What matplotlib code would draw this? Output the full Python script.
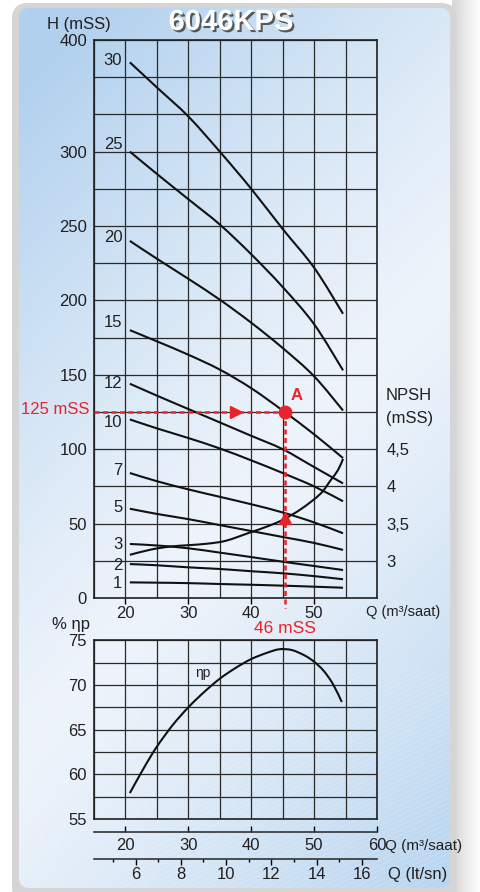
import numpy as np
import matplotlib
matplotlib.use("Agg")
import matplotlib.pyplot as plt
import matplotlib.patheffects as pe
from matplotlib.patches import FancyBboxPatch, PathPatch
from matplotlib.path import Path

plt.rcParams['font.family'] = ['Liberation Sans', 'DejaVu Sans']

W, HP = 481, 892
RED = '#e8232b'
INK = '#231f20'

# head curves, Q (m3/saat) vs H (mSS), one per stage count
q_head = [20.7, 25, 30, 35, 40, 45, 50, 54.6]
h_30 = [380, 357.5, 331.5, 300, 275, 248, 222, 191]
h_25 = [300, 285, 268, 251, 231, 209, 184, 153]
h_20 = [240, 228, 214.5, 200.5, 185, 168, 149, 126]
h_15 = [180, 172.5, 163.5, 153.5, 141, 126, 110, 94]
h_12 = [144, 136, 127, 118, 109, 100, 88, 77]
h_10 = [120, 114, 107.5, 100.5, 92.5, 84, 75, 65]
h_7 = [84, 78.5, 73, 68, 63, 57.5, 50.8, 43.5]
h_5 = [60, 56.5, 53, 49, 45, 41, 37, 32.3]
h_3 = [36.3, 35.3, 33.4, 30.5, 27.5, 24.4, 21.5, 18.8]
h_2 = [22.8, 22, 20.6, 19.5, 18, 16.6, 14.7, 12.6]
h_1 = [10.5, 10.3, 10, 9.4, 8.9, 8.3, 7.6, 6.9]
stage_labels = ["30", "25", "20", "15", "12", "10", "7", "5", "3", "2", "1"]
stage_label_h = [382, 306, 242, 185, 144, 118, 86, 61, 36, 22, 9.5]

# NPSH curve (right axis)
q_npsh = [20.7, 24, 27, 30, 33, 36, 39.8, 42.5, 45, 48, 51, 52.6, 53.8, 54.6]
npsh = [3.08, 3.15, 3.19, 3.21, 3.23, 3.27, 3.38, 3.46, 3.55, 3.7, 3.9, 4.08, 4.22, 4.37]
npsh_ticks = [3, 3.5, 4, 4.5]
npsh_labels = ["3", "3,5", "4", "4,5"]

# efficiency curve
q_eff = [20.7, 23, 25, 27.5, 30, 32.5, 35, 37.5, 40, 42.5, 44.5, 46.5,
         48.5, 50, 51.5, 53, 54.4]
eff = [57.9, 60.8, 63.1, 65.5, 67.5, 69.2, 70.7, 71.9, 72.9, 73.6, 74.0,
       73.9, 73.3, 72.6, 71.6, 70.1, 68.1]

# operating point A
q_a, h_a, npsh_a = 45.3, 125, 3.57
q_arrow = 37.6


def fx(x):
    return x / W


def fy(y):
    return 1 - y / HP


# y scale of the head chart: 25 m per grid row up to 300, then 33.3 m per row
def fwd(h):
    h = np.asarray(h, float)
    return np.where(h <= 300, h / 25.0, 12 + (h - 300) * 0.03)


def inv(g):
    g = np.asarray(g, float)
    return np.where(g <= 12, g * 25.0, 300 + (g - 12) / 0.03)


def npsh_fwd(n):
    return fwd(25 + (np.asarray(n, float) - 3) * 50)


def npsh_inv(g):
    return 3 + (inv(g) - 25) / 50


def smooth_line(ax, x, y, f=None, finv=None, **kw):
    # draw a smooth curve through the read points (Catmull-Rom as cubic Beziers)
    x = np.asarray(x, float)
    g = np.asarray(y, float) if f is None else f(y)
    n = len(x)
    verts = [(x[0], g[0])]
    codes = [Path.MOVETO]
    for i in range(n - 1):
        j0 = max(i - 1, 0)
        j3 = min(i + 2, n - 1)
        c1 = (x[i] + (x[i + 1] - x[j0]) / 6, g[i] + (g[i + 1] - g[j0]) / 6)
        c2 = (x[i + 1] - (x[j3] - x[i]) / 6, g[i + 1] - (g[j3] - g[i]) / 6)
        verts += [c1, c2, (x[i + 1], g[i + 1])]
        codes += [Path.CURVE4] * 3
    verts = np.array(verts)
    if finv is not None:
        verts[:, 1] = finv(verts[:, 1])
    ax.add_patch(PathPatch(Path(verts, codes), fill=False, capstyle='butt', **kw))


fig = plt.figure(figsize=(W / 100, HP / 100), dpi=100)
fig.patch.set_facecolor('white')

# background card
bg = fig.add_axes([0, 0, 1, 1], zorder=-10)
bg.set_xlim(0, W)
bg.set_ylim(HP, 0)
bg.axis('off')
shade = np.linspace(0, 1, 60)[None, :]
bg.imshow(shade, extent=(452, W, HP, 0), aspect='auto', zorder=0,
          cmap=matplotlib.colors.LinearSegmentedColormap.from_list('sh', ['#d6d6d6', '#ffffff']))
bg.add_patch(FancyBboxPatch((12, 3), 445, 900, boxstyle='round,pad=0,rounding_size=16',
                            fc='#d5d5d5', ec='none', zorder=1))
panel = FancyBboxPatch((19, 8), 431, 880, boxstyle='round,pad=0,rounding_size=10',
                       fc='none', ec='none', zorder=2)
bg.add_patch(panel)
yy, xx = np.mgrid[0:1:300j, 0:1:150j]
s = 0.35 * xx + 0.65 * yy
k = np.clip(np.abs(s - 0.55) / 0.5, 0, 1) ** 1.2
blue = np.array([176, 208, 238]) / 255
light = np.array([238, 244, 251]) / 255
img = light[None, None, :] * (1 - k[..., None]) + blue[None, None, :] * k[..., None]
im = bg.imshow(img, extent=(19, 450, 888, 8), aspect='auto', zorder=2, interpolation='bilinear')
im.set_clip_path(panel)
for x0 in np.arange(-400, 460, 11):
    ln, = bg.plot([x0, x0 + 500], [900, 900 - 230], color='white', lw=0.5, alpha=0.25, zorder=3)
    ln.set_clip_path(panel)

grid_kw = dict(color='#2a2a2a', lw=0.9)
curve_kw = dict(color='#111111', lw=1.5, zorder=4)

# head chart
ax = fig.add_axes([fx(94), fy(598), (377 - 94) / W, (598 - 40) / HP])
ax.set_facecolor('none')
ax.set_xlim(15, 60)
ax.set_yscale('function', functions=(fwd, inv))
ax.set_ylim(0, 400)
ax.set_yticks([0, 50, 100, 150, 200, 250, 300, 400])
ax.set_yticks(list(np.arange(0, 301, 25)) + [333.33, 366.67], minor=True)
ax.set_xticks([20, 30, 40, 50])
ax.set_xticks(np.arange(15, 61, 5), minor=True)
ax.grid(True, which='both', **grid_kw)
ax.tick_params(axis='y', which='both', length=0, pad=5, labelsize=12, labelcolor=INK)
ax.tick_params(axis='x', which='major', length=4, width=1, pad=2, labelsize=12, labelcolor=INK)
ax.tick_params(axis='x', which='minor', length=0)
for sp in ax.spines.values():
    sp.set_color('#222222')
    sp.set_linewidth(1.2)

curves = [h_30, h_25, h_20, h_15, h_12, h_10, h_7, h_5, h_3, h_2, h_1]
for hv in curves:
    smooth_line(ax, q_head, hv, fwd, inv, **curve_kw)
for lab, hl in zip(stage_labels, stage_label_h):
    ax.text(19.5, hl, lab, ha='right', va='center', fontsize=12, color=INK)

axn = ax.twinx()
axn.set_yscale('function', functions=(npsh_fwd, npsh_inv))
axn.set_ylim(2.5, 10.5)
axn.set_yticks(npsh_ticks)
axn.set_yticklabels(npsh_labels)
axn.tick_params(axis='y', length=0, pad=7, labelsize=12, labelcolor=INK)
for sp in axn.spines.values():
    sp.set_visible(False)
smooth_line(axn, q_npsh, npsh, npsh_fwd, npsh_inv, **curve_kw)

# operating point
dash = (0, (2, 1.4))
ax.plot([15, q_a], [h_a, h_a], color=RED, lw=1.8, ls=dash, clip_on=False, zorder=5)
ax.plot([q_a, q_a], [h_a, -7], color=RED, lw=1.8, ls=dash, clip_on=False, zorder=5)
ax.plot([q_arrow], [h_a], marker='>', ms=8, color=RED, zorder=6)
ax.plot([q_a], [h_a], marker='o', ms=9, color=RED, zorder=6)
axn.plot([q_a], [npsh_a], marker='^', ms=8, color=RED, zorder=6)

fig.text(fx(297), fy(395), 'A', color=RED, fontsize=12, fontweight='bold', ha='center', va='center')
fig.text(fx(89), fy(409), '125 mSS', color=RED, fontsize=12, ha='right', va='center')
fig.text(fx(285), fy(628.5), '46 mSS', color=RED, fontsize=12.5, ha='center', va='center')
fig.text(fx(47), fy(24), 'H (mSS)', color=INK, fontsize=12, ha='left', va='center')
fig.text(fx(386), fy(395), 'NPSH', color=INK, fontsize=12, ha='left', va='center')
fig.text(fx(386), fy(418), '(mSS)', color=INK, fontsize=12, ha='left', va='center')
fig.text(fx(366), fy(612), 'Q (m³/saat)', color=INK, fontsize=10.5, ha='left', va='center')
fig.text(fx(231), fy(22), '6046KPS', color='white', fontsize=21, fontweight='bold',
         ha='center', va='center',
         path_effects=[pe.SimplePatchShadow(offset=(1.5, -1.5), shadow_rgbFace='#4a4a4a', alpha=0.9),
                       pe.Normal()])

# efficiency chart
axe = fig.add_axes([fx(94), fy(819), (377 - 94) / W, (819 - 640.3) / HP])
axe.set_facecolor('none')
axe.set_xlim(15, 60)
axe.set_ylim(55, 75)
axe.set_yticks([55, 60, 65, 70, 75])
axe.set_yticks(np.arange(55, 75.1, 2.5), minor=True)
axe.set_xticks([])
axe.set_xticks(np.arange(15, 61, 5), minor=True)
axe.grid(True, which='both', **grid_kw)
axe.tick_params(axis='both', which='both', length=0)
axe.tick_params(axis='y', pad=5, labelsize=12, labelcolor=INK)
for sp in axe.spines.values():
    sp.set_color('#222222')
    sp.set_linewidth(1.2)
smooth_line(axe, q_eff, eff, **curve_kw)
axe.text(32.3, 71.3, 'ηp', fontsize=10, color=INK, ha='center', va='center')
fig.text(fx(52), fy(624), '% ηp', color=INK, fontsize=12, ha='left', va='center')

# flow scales under the efficiency chart
axq = fig.add_axes([fx(94), fy(832), (377 - 94) / W, 1e-4])
axq.set_facecolor('none')
axq.set_xlim(15, 60)
axq.set_yticks([])
axq.set_xticks([20, 30, 40, 50, 60])
axq.tick_params(axis='x', direction='in', length=4, width=1, pad=4, labelsize=12, labelcolor=INK)
for name, sp in axq.spines.items():
    sp.set_visible(name == 'bottom')
axq.spines['bottom'].set_color('#333333')
axq.spines['bottom'].set_linewidth(1.2)
fig.text(fx(385), fy(846), 'Q (m³/saat)', color=INK, fontsize=11, ha='left', va='center')

axl = fig.add_axes([fx(94), fy(859), (377 - 94) / W, 1e-4])
axl.set_facecolor('none')
axl.set_xlim(15 / 3.6, 60 / 3.6)
axl.set_yticks([])
axl.set_xticks([6, 8, 10, 12, 14, 16])
axl.set_xticks([5, 7, 9, 11, 13, 15], minor=True)
axl.tick_params(axis='x', which='major', direction='out', length=4, width=1, pad=2,
                labelsize=12, labelcolor=INK)
axl.tick_params(axis='x', which='minor', direction='out', length=2.5, width=1)
for name, sp in axl.spines.items():
    sp.set_visible(name == 'bottom')
axl.spines['bottom'].set_color('#333333')
axl.spines['bottom'].set_linewidth(1.2)
fig.text(fx(388), fy(875), 'Q (lt/sn)', color=INK, fontsize=12, ha='left', va='center')

fig.savefig('out.png', dpi=100)
